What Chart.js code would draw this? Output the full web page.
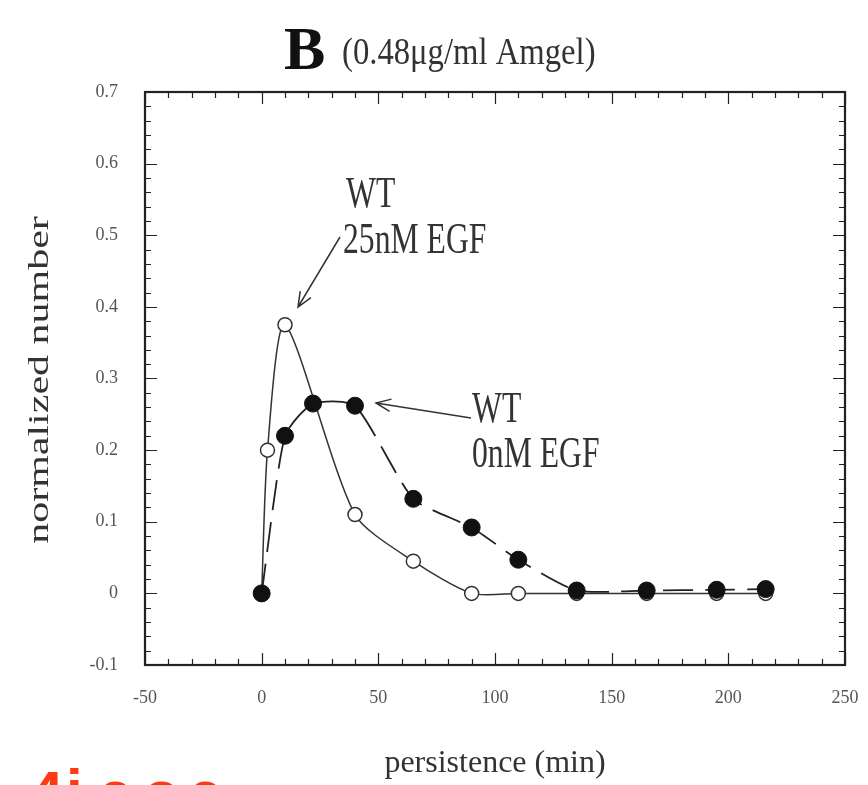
<!DOCTYPE html>
<html lang="en">
<head>
    <meta charset="UTF-8">
    <title>B (0.48μg/ml Amgel)</title>
    <script src="https://cdn.jsdelivr.net/npm/chart.js"></script>
    <style>
        body { margin: 0; background: #fff; }
        #wrap { width: 868px; height: 785px; position: relative; }
    </style>
</head>
<body>
<div id="wrap"><canvas id="chart"></canvas></div>
<script>
    // data
    const openX = [0, 2.5, 10, 40, 65, 90, 110, 135, 165, 195, 216];
    const openY = [0, 0.20, 0.375, 0.11, 0.045, 0, 0, 0, 0, 0, 0];
    const filledX = [0, 10, 22, 40, 65, 90, 110, 135, 165, 195, 216];
    const filledY = [0, 0.22, 0.265, 0.262, 0.132, 0.092, 0.047, 0.004, 0.004, 0.005, 0.006];
    const xTicks = [-50, 0, 50, 100, 150, 200, 250];
    const yTicks = [-0.1, 0, 0.1, 0.2, 0.3, 0.4, 0.5, 0.6, 0.7];
    const yTickLabels = ['-0.1', '0', '0.1', '0.2', '0.3', '0.4', '0.5', '0.6', '0.7'];

    const SERIF = '"Liberation Serif", "DejaVu Serif", serif';

    function pts(xs, ys) { return xs.map((x, i) => ({ x: x, y: ys[i] })); }

    // text squeezed horizontally like the scanned figure
    function squeezed(ctx, text, x, y, size, sx, weight) {
        ctx.save();
        ctx.translate(x, y);
        ctx.scale(sx, 1);
        ctx.font = (weight || 'normal') + ' ' + size + 'px ' + SERIF;
        ctx.fillText(text, 0, 0);
        ctx.restore();
    }

    function arrow(ctx, x1, y1, x2, y2) {
        const a = Math.atan2(y2 - y1, x2 - x1);
        ctx.beginPath();
        ctx.moveTo(x1, y1);
        ctx.lineTo(x2, y2);
        ctx.moveTo(x2 - 16 * Math.cos(a - 0.4), y2 - 16 * Math.sin(a - 0.4));
        ctx.lineTo(x2, y2);
        ctx.lineTo(x2 - 16 * Math.cos(a + 0.4), y2 - 16 * Math.sin(a + 0.4));
        ctx.stroke();
    }

    const framePlugin = {
        id: 'frame',
        afterDraw(chart) {
            const ctx = chart.ctx;
            const a = chart.chartArea;
            const xs = chart.scales.x, ys = chart.scales.y;
            ctx.save();
            ctx.strokeStyle = '#222';
            ctx.lineWidth = 1.2;
            // inward ticks on all four sides
            ctx.beginPath();
            for (let v = -50; v <= 250; v += 10) {
                const px = Math.round(xs.getPixelForValue(v)) + 0.5;
                const len = v % 50 === 0 ? 12 : 6;
                ctx.moveTo(px, a.bottom); ctx.lineTo(px, a.bottom - len);
                ctx.moveTo(px, a.top); ctx.lineTo(px, a.top + len);
            }
            for (let i = 0; i <= 40; i++) {
                const v = -0.1 + i * 0.02;
                const py = Math.round(ys.getPixelForValue(v)) + 0.5;
                const len = i % 5 === 0 ? 12 : 6;
                ctx.moveTo(a.left, py); ctx.lineTo(a.left + len, py);
                ctx.moveTo(a.right, py); ctx.lineTo(a.right - len, py);
            }
            ctx.stroke();
            ctx.lineWidth = 2.2;
            ctx.strokeRect(a.left, a.top, a.right - a.left, a.bottom - a.top);

            // title
            ctx.fillStyle = '#111';
            squeezed(ctx, 'B', 284, 69, 62, 1.0, 'bold');
            ctx.fillStyle = '#333';
            squeezed(ctx, '(0.48μg/ml Amgel)', 342, 64, 38, 0.86);

            // y axis title, stretched along its length
            ctx.save();
            ctx.translate(48, 380);
            ctx.rotate(-Math.PI / 2);
            ctx.scale(1.4, 1);
            ctx.textAlign = 'center';
            ctx.font = '30px ' + SERIF;
            ctx.fillText('normalized number', 0, 0);
            ctx.restore();

            // annotations
            ctx.fillStyle = '#333';
            squeezed(ctx, 'WT', 346, 207, 44, 0.72);
            squeezed(ctx, '25nM EGF', 343, 253, 44, 0.72);
            squeezed(ctx, 'WT', 472, 422, 44, 0.72);
            squeezed(ctx, '0nM EGF', 472, 467, 44, 0.72);
            ctx.strokeStyle = '#333';
            ctx.lineWidth = 1.5;
            arrow(ctx, 340, 237, 298, 307);
            arrow(ctx, 471, 418, 376, 403);

            // cropped red mark at the bottom edge
            ctx.fillStyle = '#ff3a12';
            ctx.font = 'bold 60px "Liberation Sans", sans-serif';
            ctx.fillText('4', 30, 813);
            ctx.fillText('i', 66, 811);
            ctx.fillText('c', 98, 813);
            ctx.fillText('o', 143, 813);
            ctx.fillText('c', 188, 813);
            ctx.restore();
        }
    };

    new Chart(document.getElementById('chart'), {
        type: 'scatter',
        data: {
            datasets: [
                {
                    label: 'WT 0nM EGF',
                    data: pts(filledX, filledY),
                    order: 0,
                    showLine: true,
                    borderColor: '#222',
                    borderWidth: 1.8,
                    borderDash: [30, 12],
                    tension: 0.2,
                    pointRadius: 8.5,
                    pointBackgroundColor: '#111',
                    pointBorderColor: '#111',
                    pointBorderWidth: 1
                },
                {
                    label: 'WT 25nM EGF',
                    data: pts(openX, openY),
                    order: 1,
                    showLine: true,
                    borderColor: '#333',
                    borderWidth: 1.5,
                    tension: 0.25,
                    pointRadius: 7,
                    pointBackgroundColor: '#fff',
                    pointBorderColor: '#333',
                    pointBorderWidth: 1.5
                }
            ]
        },
        options: {
            responsive: true,
            maintainAspectRatio: false,
            animation: false,
            layout: { padding: { left: 0, right: 23, top: 92, bottom: 0 } },
            plugins: { legend: { display: false }, tooltip: { enabled: false } },
            scales: {
                x: {
                    type: 'linear',
                    min: -50, max: 250,
                    afterBuildTicks: s => { s.ticks = xTicks.map(v => ({ value: v })); },
                    afterFit: s => { s.height = 120; s.paddingLeft = 0; s.paddingRight = 0; },
                    grid: { display: false, drawTicks: false },
                    border: { display: false },
                    ticks: { color: '#555', padding: 22, font: { family: SERIF, size: 18 } },
                    title: {
                        display: true, text: 'persistence (min)', color: '#333',
                        font: { family: SERIF, size: 32 }, padding: { bottom: 2 }
                    }
                },
                y: {
                    type: 'linear',
                    min: -0.1, max: 0.7,
                    afterBuildTicks: s => { s.ticks = yTicks.map(v => ({ value: v })); },
                    afterFit: s => { s.width = 145; s.paddingTop = 0; s.paddingBottom = 0; },
                    grid: { display: false, drawTicks: false },
                    border: { display: false },
                    ticks: {
                        color: '#555', padding: 27, font: { family: SERIF, size: 18 },
                        callback: (v, i) => yTickLabels[i]
                    }
                }
            }
        },
        plugins: [framePlugin]
    });
</script>
</body>
</html>
